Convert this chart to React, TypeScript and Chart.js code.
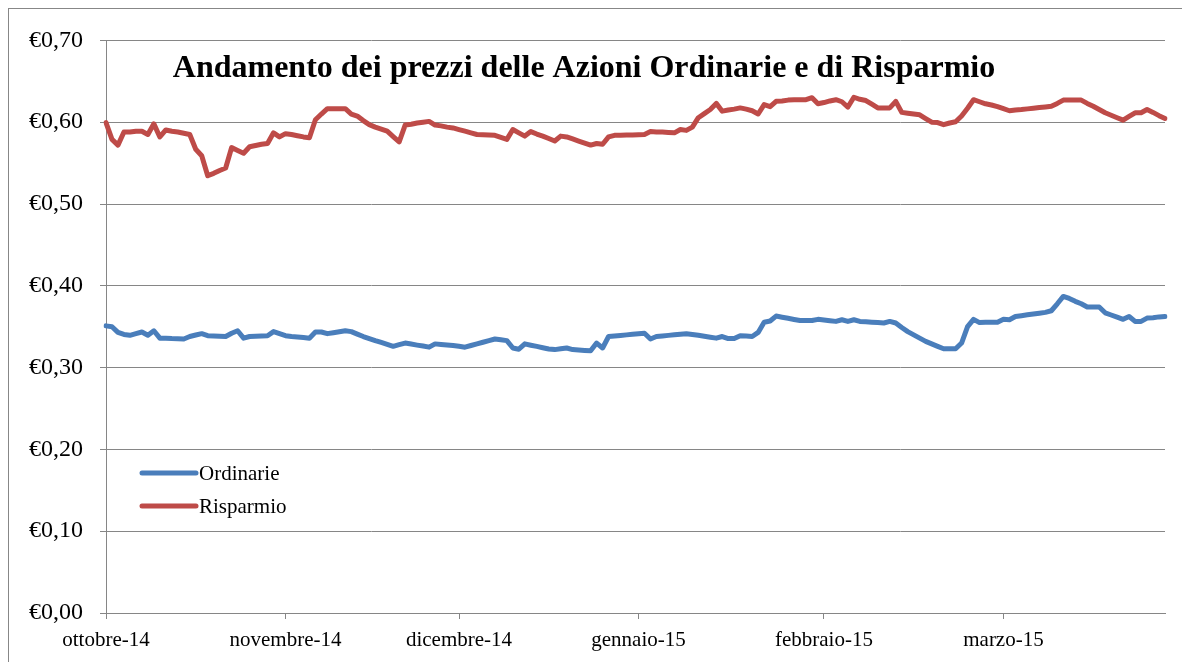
import React, { useEffect, useRef } from "react";
import { Chart, registerables } from "chart.js";

Chart.register(...registerables);

// Tick labels placed on the category axis (one entry per observation, empty where no tick)
const monthTicks: { index: number; label: string }[] = [
  { index: 0, label: "ottobre-14" },
  { index: 30, label: "novembre-14" },
  { index: 59, label: "dicembre-14" },
  { index: 89, label: "gennaio-15" },
  { index: 120, label: "febbraio-15" },
  { index: 150, label: "marzo-15" },
];

const ordinarie: number[] = [
  0.351, 0.35, 0.343, 0.3405, 0.3395, 0.3415, 0.3435, 0.3395, 0.345, 0.336,
  0.336, 0.3355, 0.3353, 0.335, 0.338, 0.3398, 0.3415, 0.339, 0.3387, 0.3383,
  0.338, 0.342, 0.345, 0.336, 0.338, 0.3383, 0.3387, 0.339, 0.344, 0.3415,
  0.339, 0.338, 0.3375, 0.3368, 0.336, 0.3435, 0.3435, 0.3415, 0.3427, 0.3438,
  0.345, 0.344, 0.341, 0.338, 0.3355, 0.333, 0.3307, 0.3283, 0.326, 0.328,
  0.33, 0.3288, 0.3275, 0.3263, 0.325, 0.329, 0.3283, 0.3277, 0.327, 0.326,
  0.325, 0.327, 0.329, 0.331, 0.333, 0.335, 0.334, 0.333, 0.324, 0.3225,
  0.329, 0.3274, 0.3259, 0.3243, 0.3228, 0.322, 0.323, 0.324, 0.322, 0.3215,
  0.321, 0.3205, 0.33, 0.324, 0.338, 0.3387, 0.3393, 0.34, 0.3407, 0.3413,
  0.342, 0.335, 0.338, 0.3387, 0.3394, 0.3401, 0.3408, 0.3415, 0.3405, 0.3395,
  0.3383, 0.3372, 0.336, 0.338, 0.3355, 0.3355, 0.339, 0.3385, 0.338, 0.343,
  0.3555, 0.357, 0.363, 0.3616, 0.3603, 0.3589, 0.3575, 0.3575, 0.3575, 0.359,
  0.3582, 0.3573, 0.3565, 0.3585, 0.3565, 0.3585, 0.3565, 0.356, 0.3555, 0.355,
  0.3545, 0.3565, 0.3545, 0.349, 0.344, 0.34, 0.336, 0.332, 0.329, 0.326,
  0.323, 0.323, 0.323, 0.33, 0.35, 0.359, 0.355, 0.3553, 0.3553, 0.3555,
  0.359, 0.3585, 0.3625, 0.3635, 0.3645, 0.3655, 0.3665, 0.3675, 0.3695, 0.378,
  0.387, 0.3845, 0.381, 0.378, 0.374, 0.3742, 0.374, 0.367, 0.3643, 0.3617,
  0.359, 0.3625, 0.3565, 0.3565, 0.3605, 0.361, 0.362, 0.3625,
];

const risparmio: number[] = [
  0.5995, 0.579, 0.572, 0.588, 0.588, 0.589, 0.589, 0.585, 0.598, 0.582,
  0.5905, 0.589, 0.588, 0.5865, 0.585, 0.567, 0.559, 0.5345, 0.5375, 0.541,
  0.544, 0.569, 0.5655, 0.562, 0.57, 0.5715, 0.573, 0.574, 0.587, 0.582,
  0.586, 0.585, 0.5835, 0.582, 0.581, 0.603, 0.61, 0.6165, 0.6165, 0.6165,
  0.6165, 0.61, 0.6075, 0.602, 0.597, 0.594, 0.5915, 0.589, 0.5825, 0.576,
  0.5965, 0.5975, 0.599, 0.6, 0.601, 0.5965, 0.5955, 0.594, 0.593, 0.591,
  0.589, 0.587, 0.585, 0.5847, 0.5843, 0.584, 0.5815, 0.579, 0.591, 0.587,
  0.583, 0.5885, 0.5855, 0.583, 0.58, 0.577, 0.583, 0.582, 0.5795, 0.577,
  0.5745, 0.572, 0.574, 0.573, 0.582, 0.584, 0.584, 0.5843, 0.5845, 0.5847,
  0.585, 0.5885, 0.588, 0.588, 0.5875, 0.587, 0.591, 0.59, 0.594, 0.6055,
  0.6105, 0.6155, 0.623, 0.6135, 0.615, 0.616, 0.6175, 0.616, 0.614, 0.61,
  0.6215, 0.619, 0.6255, 0.626, 0.627, 0.6275, 0.6275, 0.6275, 0.63, 0.6225,
  0.624, 0.626, 0.6275, 0.625, 0.6185, 0.6305, 0.628, 0.6265, 0.622, 0.6175,
  0.6175, 0.6175, 0.6255, 0.612, 0.611, 0.61, 0.609, 0.6045, 0.6, 0.5995,
  0.597, 0.599, 0.6005, 0.6075, 0.617, 0.6275, 0.625, 0.6225, 0.621, 0.619,
  0.6165, 0.614, 0.615, 0.6155, 0.6163, 0.6171, 0.6179, 0.6187, 0.6195, 0.623,
  0.627, 0.627, 0.627, 0.627, 0.623, 0.6195, 0.6155, 0.6115, 0.6085, 0.6055,
  0.6025, 0.607, 0.6115, 0.6115, 0.6155, 0.612, 0.608, 0.6045,
];

const seriesNames = ["Ordinarie", "Risparmio"];
const seriesColors = ["#4A7EBB", "#BE4B48"];
const titleText = "Andamento dei prezzi delle Azioni Ordinarie e di Risparmio";
const yTicks = [0, 0.1, 0.2, 0.3, 0.4, 0.5, 0.6, 0.7];

const labels: string[] = ordinarie.map((_, i) => {
  const t = monthTicks.find((m) => m.index === i);
  return t ? t.label : "";
});

const SERIF = "'Times New Roman', 'Liberation Serif', serif";
const GRID = "#868686";

const overlayPlugin = {
  id: "overlay",
  afterDraw(chart: any) {
    const { ctx } = chart;
    ctx.save();
    // title
    ctx.fillStyle = "#000";
    ctx.font = `bold 32px ${SERIF}`;
    ctx.textAlign = "center";
    ctx.textBaseline = "alphabetic";
    ctx.fillText(titleText, 575, 68);
    // legend
    const items = chart.data.datasets;
    items.forEach((ds: any, i: number) => {
      const y = 464 + i * 33;
      ctx.strokeStyle = ds.borderColor;
      ctx.lineWidth = 5;
      ctx.lineCap = "round";
      ctx.beginPath();
      ctx.moveTo(133, y);
      ctx.lineTo(187, y);
      ctx.stroke();
      ctx.fillStyle = "#000";
      ctx.font = `21px ${SERIF}`;
      ctx.textAlign = "left";
      ctx.textBaseline = "middle";
      ctx.fillText(ds.label, 190, y + 1);
    });
    ctx.restore();
  },
};

export default function App() {
  const canvasRef = useRef<HTMLCanvasElement | null>(null);

  useEffect(() => {
    if (!canvasRef.current) return;
    const chart = new Chart(canvasRef.current, {
      type: "line",
      data: {
        labels,
        datasets: [
          {
            label: seriesNames[0],
            data: ordinarie,
            borderColor: seriesColors[0],
            backgroundColor: seriesColors[0],
            borderWidth: 5,
            pointRadius: 0,
            tension: 0,
            borderJoinStyle: "round",
            borderCapStyle: "round",
          },
          {
            label: seriesNames[1],
            data: risparmio,
            borderColor: seriesColors[1],
            backgroundColor: seriesColors[1],
            borderWidth: 5,
            pointRadius: 0,
            tension: 0,
            borderJoinStyle: "round",
            borderCapStyle: "round",
          },
        ],
      },
      options: {
        animation: false,
        responsive: false,
        maintainAspectRatio: false,
        devicePixelRatio: 1,
        layout: { padding: { left: 0, top: 28, right: 17, bottom: 0 } },
        plugins: {
          legend: { display: false },
          title: { display: false },
          tooltip: { enabled: false },
        },
        scales: {
          x: {
            type: "category",
            offset: false,
            afterFit: (scale: any) => {
              scale.height = 49;
            },
            afterBuildTicks: (scale: any) => {
              scale.ticks = monthTicks.map((m) => ({ value: m.index }));
            },
            grid: {
              drawOnChartArea: false,
              drawTicks: true,
              tickLength: 6,
              color: GRID,
              lineWidth: 1,
            },
            border: { color: GRID, width: 1 },
            ticks: {
              autoSkip: false,
              maxRotation: 0,
              minRotation: 0,
              padding: 9,
              color: "#000",
              font: { family: SERIF, size: 21 },
              callback: (value: any) => labels[value as number],
            },
          },
          y: {
            min: 0,
            max: 0.7,
            afterFit: (scale: any) => {
              scale.width = 97;
            },
            afterBuildTicks: (scale: any) => {
              scale.ticks = yTicks.map((v) => ({ value: v }));
            },
            grid: {
              color: GRID,
              lineWidth: 1,
              tickLength: 6,
            },
            border: { color: GRID, width: 1 },
            ticks: {
              padding: 17,
              color: "#000",
              font: { family: SERIF, size: 24 },
              callback: (value: any) =>
                "€" + Number(value).toFixed(2).replace(".", ","),
            },
          },
        },
      },
      plugins: [overlayPlugin],
    });
    return () => chart.destroy();
  }, []);

  return (
    <div
      style={{
        position: "fixed",
        left: 8,
        top: 8,
        width: 1300,
        height: 800,
        border: "1px solid #878787",
        background: "#fff",
      }}
    >
      <canvas
        ref={canvasRef}
        width={1173}
        height={653}
        style={{ display: "block", width: 1173, height: 653 }}
      />
    </div>
  );
}
